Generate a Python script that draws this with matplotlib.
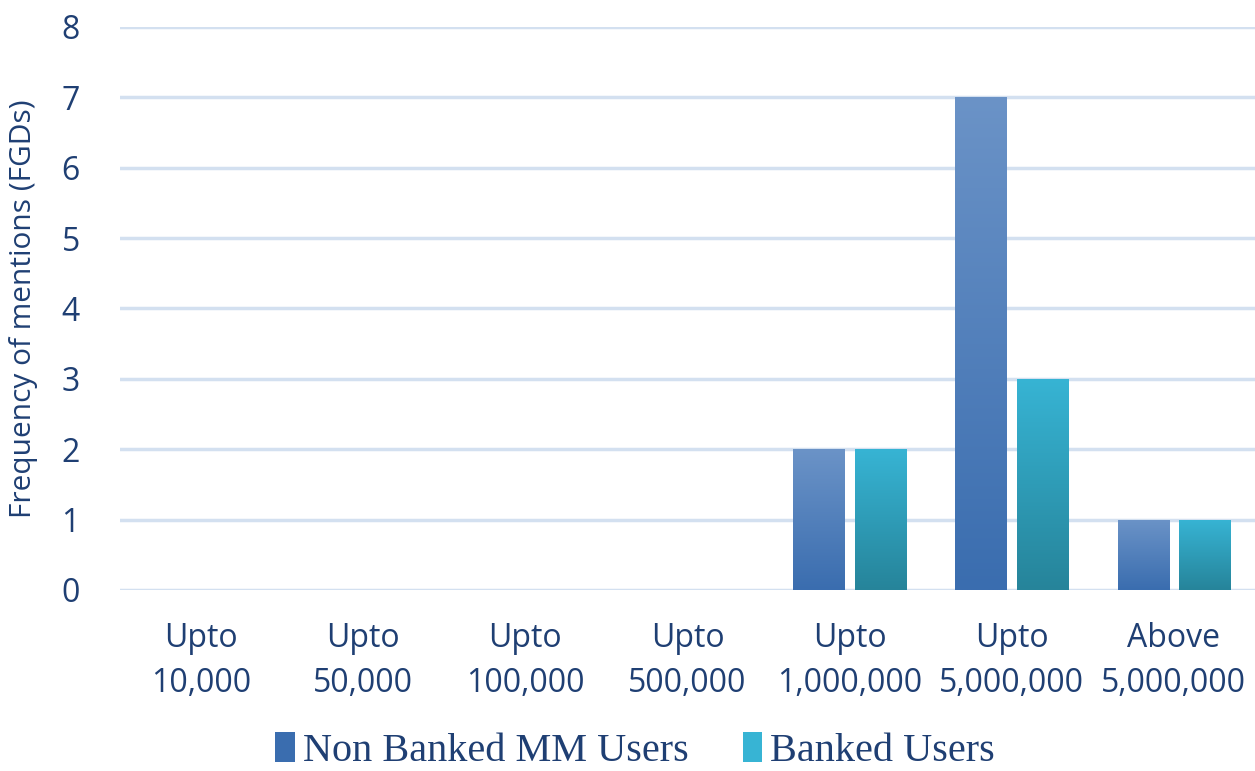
import numpy as np
import matplotlib.pyplot as plt
from matplotlib.colors import LinearSegmentedColormap
from matplotlib.patches import Patch

categories = ["Upto\n10,000", "Upto\n50,000", "Upto\n100,000", "Upto\n500,000",
              "Upto\n1,000,000", "Upto\n5,000,000", "Above\n5,000,000"]
non_banked = [0, 0, 0, 0, 2, 7, 1]
banked = [0, 0, 0, 0, 2, 3, 1]
series_names = ["Non Banked MM Users", "Banked Users"]

text_color = "#1f3f73"
grid_color = "#d3e0f0"
blue_top, blue_bot = "#6b93c7", "#3a6daf"
teal_top, teal_bot = "#37b4d4", "#26849a"

fig = plt.figure(figsize=(12.55, 7.71), dpi=100)
ax = fig.add_axes([0.0956, 0.2348, 0.9044, 0.7302])

x = np.arange(len(categories))
width = 0.315
off = 0.19


def gradient_bars(xpos, vals, c_top, c_bot):
    cmap = LinearSegmentedColormap.from_list("g", [c_bot, c_top])
    bars = ax.bar(xpos, vals, width, color=c_bot, zorder=3, linewidth=0)
    grad = np.linspace(0, 1, 256).reshape(-1, 1)
    for b, v in zip(bars, vals):
        if v <= 0:
            continue
        x0 = b.get_x()
        im = ax.imshow(grad, cmap=cmap, origin="lower", aspect="auto",
                       extent=(x0, x0 + width, 0, v), zorder=4)
        im.set_clip_path(b)
    return bars


gradient_bars(x - off, non_banked, blue_top, blue_bot)
gradient_bars(x + off, banked, teal_top, teal_bot)

ax.set_xlim(-0.5, len(categories) - 0.5)
ax.set_ylim(0, 8)
ax.set_yticks(range(0, 9))
ax.set_xticks(x)
ax.set_xticklabels(categories, fontsize=23, color=text_color, family="Open Sans",
                   linespacing=1.5)
ax.tick_params(axis="y", labelsize=23, labelcolor=text_color, length=0, pad=29)
ax.tick_params(axis="x", length=0, pad=23)
for lab in ax.get_yticklabels():
    lab.set_family("Open Sans")
ax.yaxis.grid(True, color=grid_color, linewidth=2.5, zorder=0)
ax.set_axisbelow(True)
for s in ax.spines.values():
    s.set_visible(False)
ax.set_ylabel("Frequency of mentions (FGDs)", fontsize=21.5, color=text_color,
              family="Open Sans")
ax.yaxis.set_label_coords(-0.072, 0.5)

handles = [Patch(facecolor=blue_bot, edgecolor="none"),
           Patch(facecolor=teal_top, edgecolor="none")]
fig.legend(handles, series_names, loc="center", bbox_to_anchor=(0.506, 0.026),
           ncol=2, frameon=False, prop={"family": "Liberation Serif", "size": 29},
           labelcolor=text_color, handlelength=0.48, handleheight=0.75,
           handletextpad=0.2, columnspacing=1.35, borderpad=0.2)

fig.savefig("out.png", dpi=100)
